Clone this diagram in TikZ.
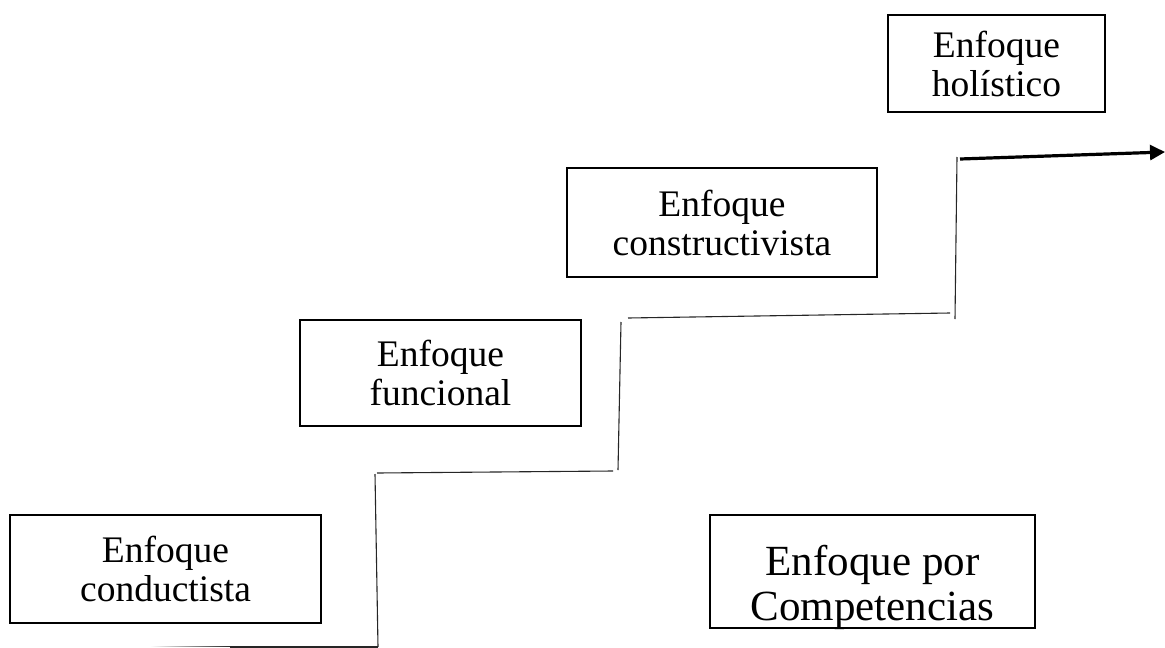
\documentclass[tikz,border=0pt]{standalone}
\usepackage{fontspec}
\setmainfont{Liberation Serif}
\usetikzlibrary{arrows.meta}
\tikzset{
  stagebox/.style={draw=black, line width=2pt, rectangle, inner sep=0pt, align=center,
    font=\fontsize{37.5}{39}\selectfont},
  bigtext/.style={inner sep=0pt, align=center, font=\fontsize{43}{45}\selectfont},
  stair/.style={draw=black!85, line width=1.1pt},
  growth/.style={draw=black, line width=3.2pt, -{Triangle[length=15pt,width=15pt]}}
}
\begin{document}
\begin{tikzpicture}[x=1pt,y=-1pt]
\useasboundingbox (0,0) rectangle (1165,648);
% boxes
\node[stagebox, minimum width=311pt, minimum height=108pt] (cond) at (165.5,569) {Enfoque\\conductista};
\node[stagebox, minimum width=281pt, minimum height=106pt] (func) at (440.5,373) {Enfoque\\funcional};
\node[stagebox, minimum width=310pt, minimum height=109pt] (cons) at (722,222.5) {Enfoque\\constructivista};
\node[stagebox, minimum width=217pt, minimum height=97pt] (holi) at (996.5,63.5) {Enfoque\\holístico};
\node[draw=black, line width=2pt, rectangle, minimum width=325pt, minimum height=113pt] (comp) at (872.5,571.5) {};
\begin{scope}
\clip (comp.south west) rectangle (comp.north east);
\node[bigtext, anchor=center] (comptext) at ([yshift=-16pt]comp.center) {Enfoque por\\Competencias};
\end{scope}
% staircase coordinates
\coordinate (s0) at (150,647);
\coordinate (s0b) at (230,647);
\coordinate (s1) at (378,647);
\coordinate (s2) at (375,474);
\coordinate (s3) at (377,473);
\coordinate (s4) at (613,471);
\coordinate (s5) at (618,470);
\coordinate (s6) at (621,322);
\coordinate (s7) at (628,318);
\coordinate (s8) at (950,313);
\coordinate (s9) at (955,319);
\coordinate (s10) at (957,157);
\coordinate (a0) at (960,159);
\coordinate (a1) at (1165,152);
\shade[left color=white, right color=black!85] (s0) ++(0,-0.55) rectangle ([yshift=0.55pt]s0b);
\draw[stair] (s0b) -- (s1);
\draw[stair] (s1) -- (s2);
\draw[stair] (s3) -- (s4);
\draw[stair] (s5) -- (s6);
\draw[stair] (s7) -- (s8);
\draw[stair] (s9) -- (s10);
\draw[growth] (a0) -- (a1);
\end{tikzpicture}
\end{document}
